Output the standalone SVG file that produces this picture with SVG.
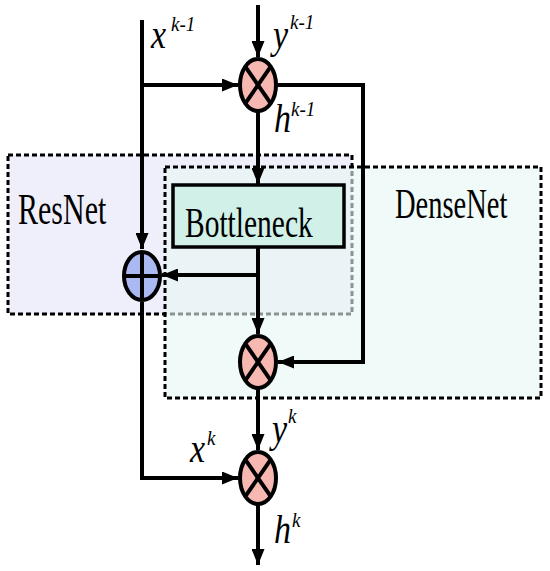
<svg xmlns="http://www.w3.org/2000/svg" width="550" height="571" viewBox="0 0 550 571">
<defs>
<marker id="ah" viewBox="0 0 16 13" refX="16" refY="6.5" markerWidth="16" markerHeight="13" markerUnits="userSpaceOnUse" orient="auto">
<path d="M0,0 L16,6.5 L0,13 Z" fill="#000"/>
</marker>
</defs>
<style>
.ln{fill:none;stroke:#000;stroke-width:4;stroke-linejoin:miter}
.box{stroke:#000;stroke-width:3;stroke-dasharray:5,3}
.op{stroke:#000;stroke-width:4}
.mul{fill:#f7b8b2}
.add{fill:#aab9f2}
.lbl{font-family:"Liberation Serif","Times New Roman",serif;fill:#000}
.it{font-style:italic}
.m{font-size:34px}
.s{font-size:19px}
</style>
<rect width="550" height="571" fill="#fff"/>
<g id="resnet">
<rect class="box" x="8" y="155" width="344" height="159" fill="#efeffc"/>
<text class="lbl" font-size="30" transform="translate(18,224) scale(1,1.45)">ResNet</text>
</g>
<g id="densenet">
<rect class="box" x="165" y="167" width="376" height="231" fill="#e6f6f4" fill-opacity="0.6"/>
<text class="lbl" font-size="28.5" transform="translate(395,218) scale(1,1.45)">DenseNet</text>
</g>
<g id="connectors">
<path class="ln" d="M258,5 V57" marker-end="url(#ah)"/>
<path class="ln" d="M142,20 V249" marker-end="url(#ah)"/>
<path class="ln" d="M142,85 H238" marker-end="url(#ah)"/>
<path class="ln" d="M276,85 H363 V362 H278" marker-end="url(#ah)"/>
<path class="ln" d="M258,111 V184" marker-end="url(#ah)"/>
<path class="ln" d="M258,247 V334" marker-end="url(#ah)"/>
<path class="ln" d="M258,275 H162" marker-end="url(#ah)"/>
<path class="ln" d="M142,302 V478 H238" marker-end="url(#ah)"/>
<path class="ln" d="M258,389 V450" marker-end="url(#ah)"/>
<path class="ln" d="M258,505 V565" marker-end="url(#ah)"/>
</g>
<g id="bottleneck">
<rect x="173" y="185" width="171" height="62" fill="#d0f0e8" stroke="#000" stroke-width="3.5"/>
<text class="lbl" font-size="29.5" transform="translate(185,237) scale(1,1.45)">Bottleneck</text>
</g>
<g id="mul-top">
<ellipse class="op mul" cx="258" cy="85" rx="18" ry="26"/>
<path class="op" d="M245.3,66.6 L270.7,103.4 M270.7,66.6 L245.3,103.4"/>
</g>
<g id="add">
<ellipse class="op add" cx="142" cy="276" rx="18" ry="24"/>
<path class="op" d="M142,252 V300 M124,276 H160"/>
</g>
<g id="mul-mid">
<ellipse class="op mul" cx="258" cy="362" rx="18" ry="26"/>
<path class="op" d="M245.3,343.6 L270.7,380.4 M270.7,343.6 L245.3,380.4"/>
</g>
<g id="mul-bottom">
<ellipse class="op mul" cx="258" cy="478" rx="18" ry="26"/>
<path class="op" d="M245.3,459.6 L270.7,496.4 M270.7,459.6 L245.3,496.4"/>
</g>
<g id="labels">
<text class="lbl it m" transform="translate(151,48) scale(1,1.15)">x</text>
<text class="lbl it s" transform="translate(171,31) scale(1,1.15)">k-1</text>
<text class="lbl it m" transform="translate(273,48) scale(1,1.15)">y</text>
<text class="lbl it s" transform="translate(290,29) scale(1,1.15)">k-1</text>
<text class="lbl it m" transform="translate(274,132) scale(1,1.15)">h</text>
<text class="lbl it s" transform="translate(291,116) scale(1,1.15)">k-1</text>
<text class="lbl it m" transform="translate(190,462) scale(1,1.15)">x</text>
<text class="lbl it s" transform="translate(207,445) scale(1,1.15)">k</text>
<text class="lbl it m" transform="translate(272,442) scale(1,1.15)">y</text>
<text class="lbl it s" transform="translate(288,423) scale(1,1.15)">k</text>
<text class="lbl it m" transform="translate(274,543) scale(1,1.15)">h</text>
<text class="lbl it s" transform="translate(292,527) scale(1,1.15)">k</text>
</g>
</svg>
